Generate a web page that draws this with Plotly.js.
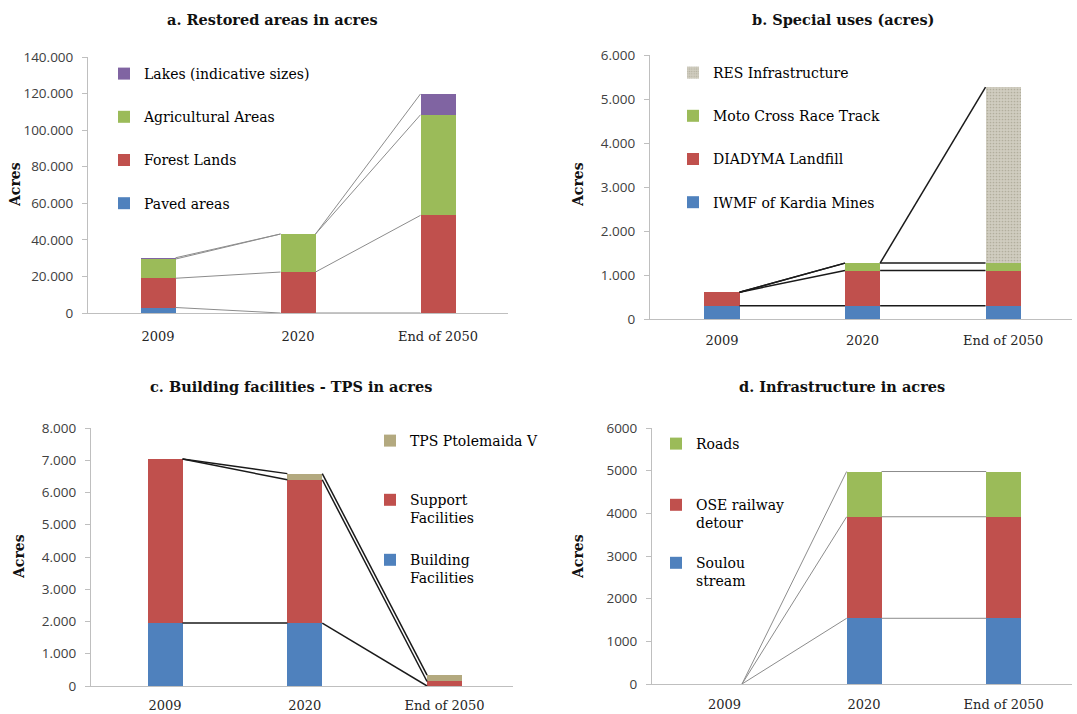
<!DOCTYPE html>
<html><head><meta charset="utf-8">
<script src="https://cdn.plot.ly/plotly-3.0.1.min.js"></script>
<style>html,body{margin:0;padding:0;background:#fff}#chart{width:1077px;height:714px}</style>
</head><body><div id="chart"></div>
<script>
// ---- data ----
const categories = ['2009', '2020', 'End of 2050'];

// a. Restored areas in acres
const aPaved  = [3000, 0, 0];
const aForest = [16000, 22400, 53400];
const aAgri   = [10500, 20800, 55000];
const aLakes  = [700, 0, 11400];

// b. Special uses (acres)
const bIwmf     = [300, 300, 300];
const bDiadyma  = [310, 800, 800];
const bMoto     = [0, 170, 170];
const bRes      = [0, 0, 4000];

// c. Building facilities - TPS in acres
const cBuilding = [1950, 1950, 0];
const cSupport  = [5090, 4445, 140];
const cTps      = [0, 190, 200];

// d. Infrastructure in acres
const dSoulou = [0, 1540, 1540];
const dOse    = [0, 2380, 2380];
const dRoads  = [0, 1060, 1060];

// ---- styling ----
const W = 1077, H = 714;
const px = x => x / W;
const py = y => 1 - y / H;
const BLUE = '#4f81bd', RED = '#c0504d', GREEN = '#9bbb59', PURPLE = '#8064a2', TAN = '#b3a97f';
const SERIF = 'DejaVu Serif, Georgia, serif';
const SANS = 'Open Sans, Liberation Sans, sans-serif';
const catPos = categories.map((c, i) => i);
const BAR_W = 0.25;

const traces = [];
function panel(n, series, lineColor, lineWidth) {
  const sfx = n === 1 ? '' : String(n);
  const cum = catPos.map(() => 0);
  series.forEach((s, k) => {
    const marker = { color: s.color, line: { width: 0 } };
    if (s.pattern) marker.pattern = s.pattern;
    traces.push({
      type: 'bar', name: s.name, x: catPos, y: s.values, width: BAR_W,
      marker: marker, xaxis: 'x' + sfx, yaxis: 'y' + sfx,
      legend: s.legend || ('legend' + sfx), legendgroup: 'g' + n + '_' + k,
      legendrank: 1000 - k, hoverinfo: 'y+name'
    });
  });
  // series lines connecting the top of each stacked segment
  const lx = [], ly = [];
  series.forEach(s => {
    s.values.forEach((v, i) => { cum[i] += v; });
    for (let i = 0; i < catPos.length - 1; i++) {
      lx.push(catPos[i] + BAR_W / 2, catPos[i + 1] - BAR_W / 2, null);
      ly.push(cum[i], cum[i + 1], null);
    }
  });
  traces.push({
    type: 'scatter', mode: 'lines', x: lx, y: ly, showlegend: false, hoverinfo: 'skip',
    line: { color: lineColor, width: lineWidth }, xaxis: 'x' + sfx, yaxis: 'y' + sfx
  });
}

panel(1, [
  { name: 'Paved areas', values: aPaved, color: BLUE },
  { name: 'Forest Lands', values: aForest, color: RED },
  { name: 'Agricultural Areas', values: aAgri, color: GREEN },
  { name: 'Lakes (indicative sizes)', values: aLakes, color: PURPLE }
], '#8c8c8c', 1);

panel(2, [
  { name: 'IWMF of Kardia Mines', values: bIwmf, color: BLUE },
  { name: 'DIADYMA Landfill', values: bDiadyma, color: RED },
  { name: 'Moto Cross Race Track', values: bMoto, color: GREEN },
  { name: 'RES Infrastructure', values: bRes, color: '#c9c6b7',
    pattern: { shape: '.', fgcolor: '#b2ae9d', bgcolor: '#d0cdc0', size: 3, solidity: 0.25, fillmode: 'replace' } }
], '#1a1a1a', 1.5);

// multi-line entries start with an empty line so the swatch sits beside the first text line
panel(3, [
  { name: ' <br>Building<br>Facilities', values: cBuilding, color: BLUE, legend: 'legend7' },
  { name: ' <br>Support<br>Facilities', values: cSupport, color: RED, legend: 'legend6' },
  { name: 'TPS Ptolemaida V', values: cTps, color: TAN, legend: 'legend5' }
], '#1a1a1a', 1.5);

panel(4, [
  { name: ' <br>Soulou<br>stream', values: dSoulou, color: BLUE, legend: 'legend10' },
  { name: ' <br>OSE railway<br>detour', values: dOse, color: RED, legend: 'legend9' },
  { name: 'Roads', values: dRoads, color: GREEN, legend: 'legend8' }
], '#8c8c8c', 1);

function xAxis(dom, range, anchor, standoff) {
  return {
    domain: [px(dom[0]), px(dom[1])], range: range, anchor: anchor,
    tickmode: 'array', tickvals: catPos, ticktext: categories,
    showline: true, linecolor: '#bfbfbf', linewidth: 1, ticks: '',
    showgrid: false, zeroline: false, fixedrange: true,
    tickfont: { family: SERIF, size: 13, color: '#262626' }, ticklabelstandoff: standoff
  };
}
function yAxis(dom, range, dtick, fmt, anchor) {
  return {
    domain: [py(dom[0]), py(dom[1])], range: range, anchor: anchor, dtick: dtick, tick0: 0,
    tickformat: fmt, showline: true, linecolor: '#bfbfbf', linewidth: 1,
    ticks: 'outside', ticklen: 5, tickcolor: '#bfbfbf', ticklabelstandoff: 6,
    showgrid: false, zeroline: false, fixedrange: true,
    tickfont: { family: SANS, size: 13.5, color: '#404040' }
  };
}
function legend(x, y, gap, anchor) {
  return {
    x: px(x), y: py(y), xanchor: 'left', yanchor: anchor || 'top', bgcolor: 'rgba(0,0,0,0)',
    traceorder: 'grouped', tracegroupgap: gap, itemwidth: 30,
    font: { family: SERIF, size: 14, color: '#000' }
  };
}
function title(text, x, y) {
  return { text: '<b>' + text + '</b>', x: px(x), y: py(y), xref: 'paper', yref: 'paper',
    showarrow: false, xanchor: 'center', yanchor: 'middle',
    font: { family: SERIF, size: 14.5, color: '#111' } };
}
function ytitle(x, y) {
  return { text: '<b>Acres</b>', x: px(x), y: py(y), xref: 'paper', yref: 'paper',
    showarrow: false, textangle: -90, xanchor: 'center', yanchor: 'middle',
    font: { family: SERIF, size: 14, color: '#111' } };
}

const layout = {
  width: W, height: H, margin: { l: 0, r: 0, t: 0, b: 0 },
  paper_bgcolor: '#fff', plot_bgcolor: 'rgba(0,0,0,0)',
  barmode: 'stack', separators: ',.', showlegend: true,
  xaxis:  xAxis([88, 508], [-0.5, 2.5], 'y', 11),
  yaxis:  yAxis([313, 57], [0, 140000], 20000, ',.0f', 'x'),
  xaxis2: xAxis([650, 1072], [-0.512, 2.49], 'y2', 9),
  yaxis2: yAxis([319, 55], [0, 6000], 1000, ',.0f', 'x2'),
  xaxis3: xAxis([91, 513], [-0.53, 2.49], 'y3', 7),
  yaxis3: yAxis([686, 428], [0, 8000], 1000, ',.0f', 'x3'),
  xaxis4: xAxis([652, 1072], [-0.52, 2.49], 'y4', 8),
  yaxis4: yAxis([684, 428], [0, 6000], 1000, 'd', 'x4'),
  legend:   legend(104, 58, 22),
  legend2:  legend(673, 57, 22),
  legend5:  legend(370, 441, 0, 'middle'),
  legend6:  legend(370, 500, 0, 'middle'),
  legend7:  legend(370, 560, 0, 'middle'),
  legend8:  legend(656, 444, 0, 'middle'),
  legend9:  legend(656, 505, 0, 'middle'),
  legend10: legend(656, 563, 0, 'middle'),
  annotations: [
    title('a. Restored areas in acres', 272, 19),
    title('b. Special uses (acres)', 843, 19),
    title('c. Building facilities - TPS in acres', 291, 386),
    title('d. Infrastructure in acres', 842, 386),
    ytitle(15, 185), ytitle(578, 185), ytitle(19, 557), ytitle(578, 557)
  ]
};

Plotly.newPlot('chart', traces, layout, { displayModeBar: false, staticPlot: true });
</script>
</body></html>
